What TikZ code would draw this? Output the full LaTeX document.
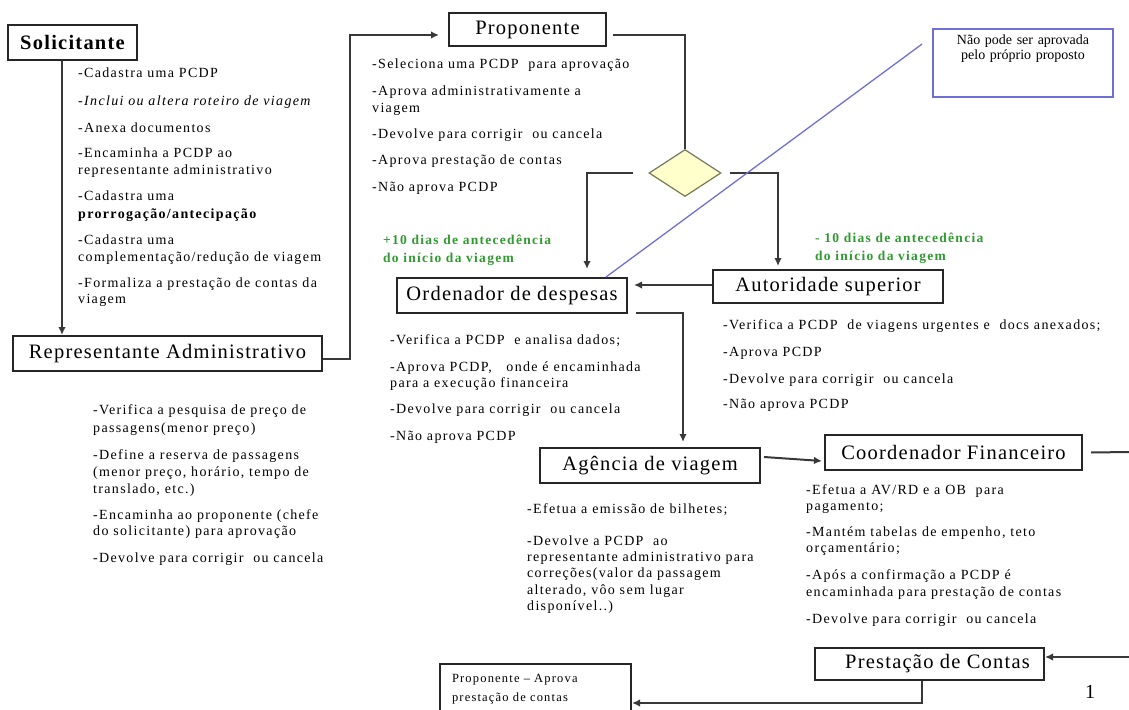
\documentclass[tikz,border=0pt]{standalone}
\usepackage{fontspec}
\setmainfont{Liberation Serif}
\newfontfamily\boxfont[LetterSpace=6]{Liberation Serif}
\newfontfamily\itemfont[LetterSpace=9.5]{Liberation Serif}
\usetikzlibrary{shapes.geometric,arrows.meta}
\definecolor{lineGray}{HTML}{383838}
\definecolor{boxGray}{HTML}{262626}
\definecolor{noteBlue}{HTML}{6F6FD8}
\definecolor{textGreen}{HTML}{2F9A2F}
\definecolor{decFill}{HTML}{FFFFCC}
\definecolor{decDraw}{HTML}{77775A}

\begin{document}
\begin{tikzpicture}
[x=1pt,y=-1pt,
  boxDecorate/.style={draw=boxGray,line width=2pt,inner sep=0pt,
    font=\boxfont\fontsize{20.5}{23}\selectfont},
  itemDecorate/.style={anchor=base west,inner sep=0pt,yshift=-4.5pt,
    font=\itemfont\fontsize{14}{16}\selectfont},
  greenDecorate/.style={itemDecorate,text=textGreen,
    font=\itemfont\bfseries\fontsize{13.5}{16}\selectfont},
  decisionDecorate/.style={diamond,draw=decDraw,fill=decFill,line width=1.2pt,
    inner sep=0pt,minimum width=72pt,minimum height=47pt},
  noteDecorate/.style={draw=noteBlue,line width=1.8pt,text width=168pt,align=center,
    inner sep=6pt,text height=10pt,text depth=46pt,font=\fontsize{14}{15}\selectfont},
  lineDecorate/.style={draw=lineGray,line width=2pt,-{Latex[length=8pt,width=7.5pt]}},
  plainLine/.style={draw=lineGray,line width=2pt},
  noteLine/.style={draw=noteBlue,line width=1.3pt}]
\useasboundingbox (0,0) rectangle (1129,709);

%% boxes
\node[boxDecorate,minimum width=129pt,minimum height=35pt] (sol) at (72.5,42.5) {\bfseries Solicitante};
\node[boxDecorate,minimum width=309pt,minimum height=35pt] (rep) at (167.5,353.5) {Representante Administrativo};
\node[boxDecorate,minimum width=157pt,minimum height=33pt] (prop) at (527.5,29.5) {Proponente};
\node[decisionDecorate] (dec) at (685,173) {};
\node[boxDecorate,minimum width=230pt,minimum height=35pt] (ord) at (512,295.5) {Ordenador de despesas};
\node[boxDecorate,minimum width=230pt,minimum height=33pt] (aut) at (828,286.5) {Autoridade superior};
\node[boxDecorate,minimum width=220pt,minimum height=35pt] (agn) at (650,465.5) {Agência de viagem};
\node[boxDecorate,minimum width=257pt,minimum height=35pt] (coord) at (953.5,452.5) {Coordenador Financeiro};
\node[boxDecorate,minimum width=229pt,minimum height=32pt] (prest) at (929.5,664) {\hspace*{16pt}Prestação de Contas};
\node[draw=boxGray,line width=2pt,anchor=north west,text width=167pt,align=left,
  inner xsep=12pt,inner ysep=8pt,text height=10pt,text depth=60pt,
  font=\itemfont\fontsize{12.5}{19}\selectfont] (propA) at (439,663)
  {Proponente – Aprova\\prestação de contas};
\node[noteDecorate] (note) at (1023,63) {Não pode ser aprovada\\pelo próprio proposto};
\node[font=\fontsize{20}{22}\selectfont] (pageNum) at (1090,692) {1};

%% item lists
\foreach \y/\txt [count=\i] in {
  73/{-Cadastra uma PCDP},
  101/{\itshape -Inclui ou altera roteiro de viagem},
  128/{-Anexa documentos},
  153/{-Encaminha a PCDP ao},
  170/{representante administrativo},
  196/{-Cadastra uma},
  214/{\bfseries prorrogação/antecipação},
  240/{-Cadastra uma},
  257/{complementação/redução de viagem},
  283/{-Formaliza a prestação de contas da},
  299/{viagem}}
{
  \node[itemDecorate] (solItem\i) at (78,\y) {\txt};
}
\foreach \y/\txt [count=\i] in {
  64/{-Seleciona uma PCDP\ \ para aprovação},
  91/{-Aprova administrativamente a},
  108/{viagem},
  134/{-Devolve para corrigir\ \ ou cancela},
  160/{-Aprova prestação de contas},
  187/{-Não aprova PCDP}}
{
  \node[itemDecorate] (propItem\i) at (372,\y) {\txt};
}
\foreach \y/\txt [count=\i] in {
  410/{-Verifica a pesquisa de preço de},
  428/{passagens(menor preço)},
  455/{-Define a reserva de passagens},
  472/{(menor preço, horário, tempo de},
  489/{translado, etc.)},
  515/{-Encaminha ao proponente (chefe},
  531/{do solicitante) para aprovação},
  558/{-Devolve para corrigir\ \ ou cancela}}
{
  \node[itemDecorate] (repItem\i) at (93,\y) {\txt};
}
\foreach \y/\txt [count=\i] in {
  340/{-Verifica a PCDP\ \ e analisa dados;},
  367/{-Aprova PCDP,\ \ \ onde é encaminhada},
  383/{para a execução financeira},
  409/{-Devolve para corrigir\ \ ou cancela},
  436/{-Não aprova PCDP}}
{
  \node[itemDecorate] (ordItem\i) at (390,\y) {\txt};
}
\foreach \y/\txt [count=\i] in {
  325/{-Verifica a PCDP\ \ de viagens urgentes e\ \ docs anexados;},
  352/{-Aprova PCDP},
  379/{-Devolve para corrigir\ \ ou cancela},
  404/{-Não aprova PCDP}}
{
  \node[itemDecorate] (autItem\i) at (723,\y) {\txt};
}
\foreach \y/\txt [count=\i] in {
  509/{-Efetua a emissão de bilhetes;},
  541/{-Devolve a PCDP\ \ ao},
  557/{representante administrativo para},
  573/{correções(valor da passagem},
  590/{alterado, vôo sem lugar},
  606/{disponível..)}}
{
  \node[itemDecorate] (agnItem\i) at (527,\y) {\txt};
}
\foreach \y/\txt [count=\i] in {
  490/{-Efetua a AV/RD e a OB\ \ para},
  506/{pagamento;},
  532/{-Mantém tabelas de empenho, teto},
  548/{orçamentário;},
  575/{-Após a confirmação a PCDP é},
  592/{encaminhada para prestação de contas},
  619/{-Devolve para corrigir\ \ ou cancela}}
{
  \node[itemDecorate] (coordItem\i) at (806,\y) {\txt};
}
%% deadline notes
\node[greenDecorate] (plusA) at (383,240) {+10 dias de antecedência};
\node[greenDecorate] (plusB) at (383,258) {do início da viagem};
\node[greenDecorate] (minusA) at (815,238) {- 10 dias de antecedência};
\node[greenDecorate] (minusB) at (815,256) {do início da viagem};

%% edges or lines
\coordinate (rightEdgeA) at (1129,452);
\coordinate (rightEdgeB) at (1129,657);
\draw[lineDecorate] ([xshift=-10.5pt]sol.south) -- ([xshift=-10.5pt]sol.south |- rep.north);
\draw[lineDecorate] ([yshift=-5pt]rep.east) -- ++(27,0) |- ([xshift=-9pt,yshift=-5.5pt]prop.west);
\draw[plainLine] ([xshift=6pt,yshift=-5.5pt]prop.east) -| (dec.north);
\draw[lineDecorate] ([xshift=-15pt]dec.west) -| ([xshift=75pt,yshift=8pt]ord.north);
\draw[lineDecorate] ([xshift=8pt]dec.east) -| ([xshift=-50pt,yshift=3pt]aut.north);
\draw[lineDecorate] ([yshift=1.5pt]aut.west) -- ([xshift=6pt,yshift=1.5pt]aut.west -| ord.east);
\draw[lineDecorate] ([xshift=8pt,yshift=1pt]ord.south east) -| ([xshift=33pt,yshift=5pt]agn.north);
\draw[lineDecorate] ([xshift=3pt,yshift=8.5pt]agn.east) -- ([xshift=-2pt,yshift=-8.5pt]coord.west);
\draw[plainLine] ([xshift=8pt]coord.east) -- (rightEdgeA);
\draw[lineDecorate] (rightEdgeB) -- (rightEdgeB -| prest.east);
\draw[lineDecorate] ([xshift=-7.5pt]prest.south) |- ([yshift=-40pt]propA.north east);
\draw[noteLine] ([xshift=-10pt,yshift=19pt]note.west) -- ([xshift=-22pt]ord.north east);
\end{tikzpicture}
\end{document}
